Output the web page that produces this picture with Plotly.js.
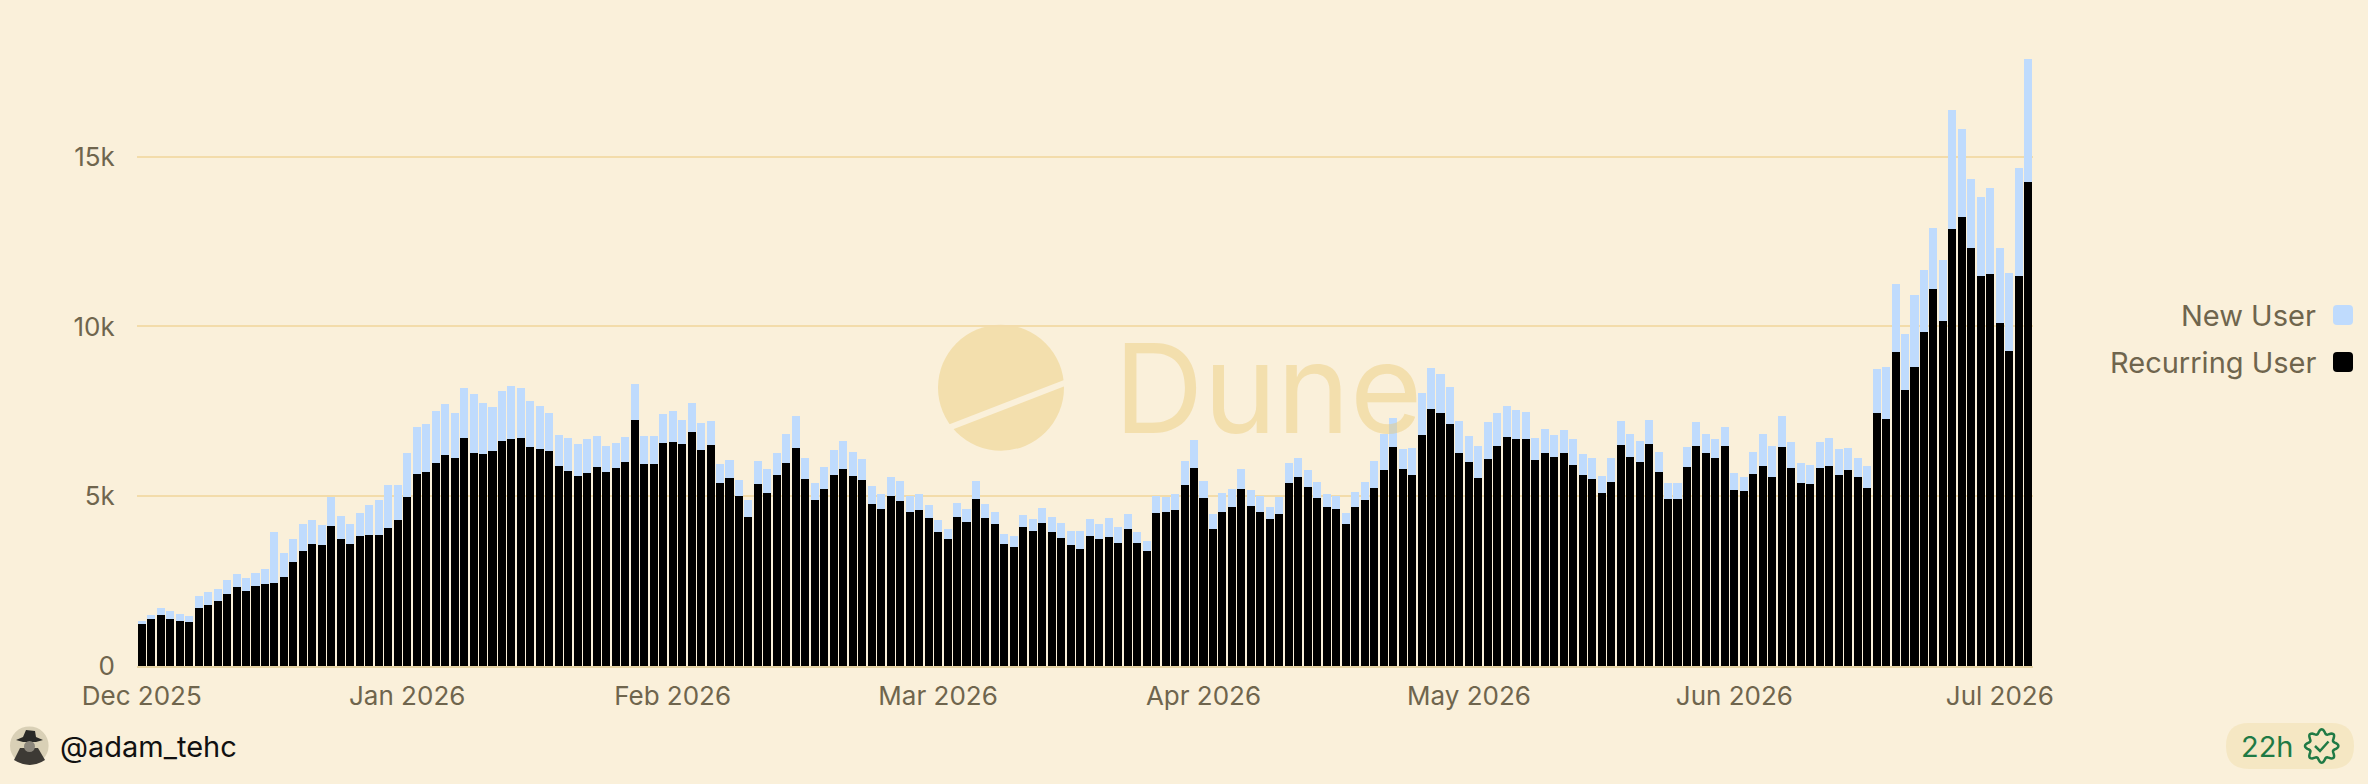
<!DOCTYPE html>
<html>
<head>
<meta charset="utf-8">
<script src="https://cdn.plot.ly/plotly-3.0.1.min.js"></script>
<style>
  html, body { margin: 0; padding: 0; background: #faf0da; }
  #grafico { width: 2368px; height: 784px; }
</style>
</head>
<body>
<div id="grafico"></div>
<script>
// usuarios recurrentes por dia (barra negra de abajo)
var recurringUsers = [
  1240,1390,1510,1380,1330,1290,1720,1800,1910,2130,2340,2220,2360,2410,2450,2620,3060,3400,3580,3560,
  4130,3740,3580,3820,3860,3860,4060,4290,4970,5670,5720,5980,6210,6120,6720,6260,6230,6320,6630,6680,
  6720,6460,6390,6340,5880,5740,5610,5690,5850,5710,5820,6010,7260,5960,5960,6560,6610,6530,6880,6360,
  6500,5390,5530,5020,4400,5350,5100,5630,5980,6410,5500,4890,5200,5630,5800,5590,5490,4780,4620,5000,
  4860,4550,4590,4350,3940,3750,4380,4240,4920,4360,4170,3590,3500,4080,3980,4200,3950,3780,3550,3440,
  3820,3740,3790,3610,4040,3610,3390,4510,4530,4600,5320,5840,4950,4040,4540,4670,5220,4720,4530,4330,
  4480,5400,5580,5270,4950,4680,4620,4180,4690,4900,5240,5760,6440,5810,5640,6790,7560,7440,7130,6280,
  6010,5540,6110,6480,6750,6690,6700,6060,6280,6170,6280,5930,5630,5520,5090,5430,6520,6160,6010,6550,
  5720,4930,4930,5850,6480,6260,6130,6490,5170,5140,5670,5880,5580,6460,5830,5390,5350,5840,5880,5630,
  5760,5560,5240,7440,7270,9250,8130,8820,9840,11100,10160,12860,13230,12310,11480,11550,10090,9270,11490,14260
];

// usuarios nuevos por dia (barra celeste de arriba)
var newUsers = [
  100,120,190,240,210,190,330,390,350,410,360,370,390,450,1490,720,680,790,710,600,
  840,680,610,700,890,1040,1270,1040,1300,1380,1410,1530,1500,1340,1470,1760,1530,1300,1470,1570,
  1460,1360,1270,1120,930,980,940,1010,920,760,750,740,1040,810,810,860,890,730,860,790,
  710,550,550,460,500,700,690,650,860,960,630,500,670,720,820,700,600,530,440,570,
  590,470,470,390,360,280,420,390,540,410,360,310,320,380,350,460,430,440,430,550,
  520,440,580,480,440,350,300,490,440,470,730,830,500,440,560,530,590,460,470,360,
  490,580,560,510,480,400,380,340,440,520,800,1060,870,590,770,1260,1210,1150,1100,940,
  770,930,1080,980,920,850,790,670,690,630,660,760,620,620,500,700,700,670,610,710,
  590,450,450,610,710,580,570,560,510,440,620,960,910,910,780,600,570,760,840,760,
  650,580,640,1300,1540,2010,1640,2100,1810,1810,1800,3520,2580,2020,2340,2530,2220,2310,3170,3630
];

// un dato por dia, etiqueta de mes cada 28 barras
var dias = recurringUsers.map(function(v, i){ return i; });
var posicionesMes = [0, 28, 56, 84, 112, 140, 168, 196];
var etiquetasMes = ["Dec 2025","Jan 2026","Feb 2026","Mar 2026","Apr 2026","May 2026","Jun 2026","Jul 2026"];

var W = 2368, H = 784;
var M = {l: 137, r: 335, t: 50, b: 118};
var PW = W - M.l - M.r;
var PH = H - M.t - M.b;
// pixeles de la pagina a coordenadas paper
function px(x){ return (x - M.l) / PW; }
function py(y){ return (H - M.b - y) / PH; }

function rectRedondo(x0, y0, x1, y1, r){
  return "M" + px(x0 + r) + "," + py(y0) +
    " L" + px(x1 - r) + "," + py(y0) + " Q" + px(x1) + "," + py(y0) + " " + px(x1) + "," + py(y0 + r) +
    " L" + px(x1) + "," + py(y1 - r) + " Q" + px(x1) + "," + py(y1) + " " + px(x1 - r) + "," + py(y1) +
    " L" + px(x0 + r) + "," + py(y1) + " Q" + px(x0) + "," + py(y1) + " " + px(x0) + "," + py(y1 - r) +
    " L" + px(x0) + "," + py(y0 + r) + " Q" + px(x0) + "," + py(y0) + " " + px(x0 + r) + "," + py(y0) + " Z";
}

// sello con check al lado de "22h"
function sello(cx, cy){
  var p = "";
  for (var k = 0; k <= 96; k++) {
    var a = k / 96 * Math.PI * 2;
    var r = 14.5 + 2.2 * Math.cos(8 * a);
    p += (k === 0 ? "M" : " L") + px(cx + r * Math.cos(a)) + "," + py(cy + r * Math.sin(a));
  }
  return p + " Z";
}

var colorTexto = "#6f654d";
var fuente = "Inter, 'Liberation Sans', Arial, sans-serif";

var dataUsuarios = [
  {
    x: dias, y: recurringUsers, name: "Recurring User", type: "bar",
    marker: {color: "#000000", line: {width: 0}}
  },
  {
    x: dias, y: newUsers, name: "New User", type: "bar",
    marker: {color: "#bfdbfd", line: {width: 0}}
  }
];

var layoutUsuarios = {
  width: W, height: H,
  margin: M,
  barmode: "stack",
  bargap: 0.15,
  showlegend: false,
  paper_bgcolor: "#faf0da",
  plot_bgcolor: "#faf0da",
  font: {family: fuente, color: colorTexto, size: 26},
  xaxis: {
    range: [-0.5, recurringUsers.length - 0.5],
    tickmode: "array", tickvals: posicionesMes, ticktext: etiquetasMes,
    ticks: "outside", ticklen: 6, tickcolor: "rgba(0,0,0,0)",
    showgrid: false, zeroline: false,
    showline: true, linecolor: "#e6d3a3", linewidth: 2,
    tickfont: {size: 26, color: colorTexto}
  },
  yaxis: {
    range: [0, 18144],
    tickvals: [0, 5000, 10000, 15000], ticktext: ["0", "5k", "10k", "15k"],
    ticks: "outside", ticklen: 16, tickcolor: "rgba(0,0,0,0)",
    showgrid: true, gridcolor: "#f3dcaa", gridwidth: 2,
    zeroline: false, showline: false,
    tickfont: {size: 26, color: colorTexto}
  },
  shapes: [
    // marca de agua
    {type: "circle", xref: "paper", yref: "paper", layer: "below",
     x0: px(938), x1: px(1064), y0: py(450.7), y1: py(324.7),
     fillcolor: "#f3dfad", line: {width: 0}},
    {type: "line", xref: "paper", yref: "paper", layer: "below",
     x0: px(930), y0: py(435), x1: px(1075), y1: py(379),
     line: {color: "#faf0da", width: 6}},
    // leyenda
    {type: "path", xref: "paper", yref: "paper", path: rectRedondo(2333, 305, 2353, 325, 4),
     fillcolor: "#bfdbfd", line: {width: 0}},
    {type: "path", xref: "paper", yref: "paper", path: rectRedondo(2333, 352, 2353, 372, 4),
     fillcolor: "#000000", line: {width: 0}},
    // avatar
    {type: "circle", xref: "paper", yref: "paper",
     x0: px(10), x1: px(48.6), y0: py(765), y1: py(726.4),
     fillcolor: "#d9d0b6", line: {width: 0}},
    {type: "path", xref: "paper", yref: "paper",
     path: "M" + px(14) + "," + py(760) + " L" + px(20) + "," + py(748) + " L" + px(38) + "," + py(748) +
           " L" + px(45) + "," + py(760) + " Q" + px(30) + "," + py(770) + " " + px(14) + "," + py(760) + " Z",
     fillcolor: "#3d3a35", line: {width: 0}},
    {type: "path", xref: "paper", yref: "paper",
     path: "M" + px(16) + "," + py(740) + " L" + px(23) + "," + py(737) + " L" + px(26) + "," + py(730) +
           " L" + px(35) + "," + py(731) + " L" + px(36) + "," + py(737) + " L" + px(43) + "," + py(740) +
           " L" + px(36) + "," + py(742) + " L" + px(23) + "," + py(742) + " Z",
     fillcolor: "#2a2a28", line: {width: 0}},
    {type: "circle", xref: "paper", yref: "paper",
     x0: px(24), x1: px(35), y0: py(752), y1: py(741),
     fillcolor: "#8c877c", line: {width: 0}},
    // pastilla "22h"
    {type: "path", xref: "paper", yref: "paper", path: rectRedondo(2226, 723, 2354, 769, 23),
     fillcolor: "#f5e7c3", line: {width: 0}},
    {type: "path", xref: "paper", yref: "paper", path: sello(2321.7, 746),
     fillcolor: "rgba(0,0,0,0)", line: {color: "#1f7a45", width: 2.5}},
    {type: "path", xref: "paper", yref: "paper",
     path: "M" + px(2315) + "," + py(746) + " L" + px(2320) + "," + py(751) + " L" + px(2328.5) + "," + py(741.5),
     fillcolor: "rgba(0,0,0,0)", line: {color: "#1f7a45", width: 2.5}}
  ],
  annotations: [
    {xref: "paper", yref: "paper", x: px(1112), y: py(388), xanchor: "left", yanchor: "middle",
     text: "Dune", showarrow: false,
     font: {family: "Inter, sans-serif", size: 124, color: "rgba(234,202,118,0.45)"}},
    {xref: "paper", yref: "paper", x: px(2318), y: py(315), xanchor: "right", yanchor: "middle",
     text: "New User", showarrow: false, font: {size: 29, color: colorTexto}},
    {xref: "paper", yref: "paper", x: px(2318), y: py(362), xanchor: "right", yanchor: "middle",
     text: "Recurring User", showarrow: false, font: {size: 29, color: colorTexto}},
    {xref: "paper", yref: "paper", x: px(58), y: py(746), xanchor: "left", yanchor: "middle",
     text: "@adam_tehc", showarrow: false, font: {size: 29, color: "#111111"}},
    {xref: "paper", yref: "paper", x: px(2239), y: py(746), xanchor: "left", yanchor: "middle",
     text: "22h", showarrow: false, font: {size: 29, color: "#1f7a45"}}
  ]
};

Plotly.newPlot("grafico", dataUsuarios, layoutUsuarios, {displayModeBar: false, staticPlot: true});
</script>
</body>
</html>
